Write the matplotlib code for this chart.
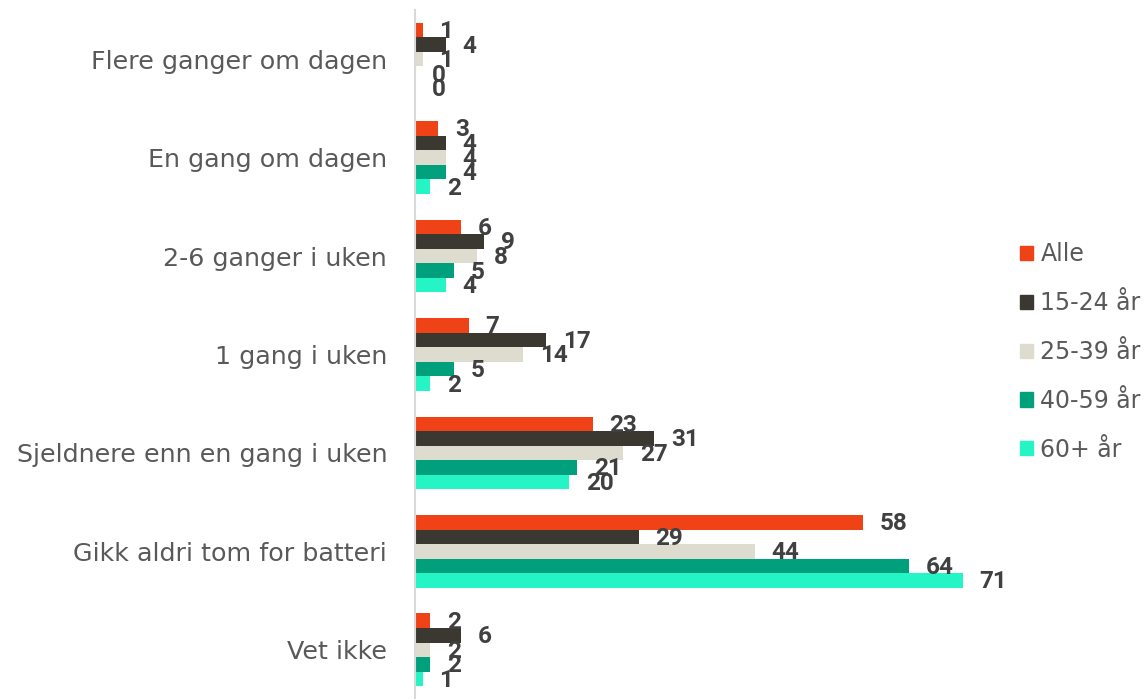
import matplotlib.pyplot as plt
from matplotlib.patches import Patch
import numpy as np

# data
categories = ["Flere ganger om dagen", "En gang om dagen", "2-6 ganger i uken",
              "1 gang i uken", "Sjeldnere enn en gang i uken",
              "Gikk aldri tom for batteri", "Vet ikke"]
series_names = ["Alle", "15-24 år", "25-39 år", "40-59 år", "60+ år"]
alle = [1, 3, 6, 7, 23, 58, 2]
age_15_24 = [4, 4, 9, 17, 31, 29, 6]
age_25_39 = [1, 4, 8, 14, 27, 44, 2]
age_40_59 = [0, 4, 5, 5, 21, 64, 2]
age_60 = [0, 2, 4, 2, 20, 71, 1]
colors = ["#EF4217", "#3B3731", "#DDDCCE", "#00A07C", "#25F4C4"]

all_series = [alle, age_15_24, age_25_39, age_40_59, age_60]

fig = plt.figure(figsize=(11.45, 6.99), dpi=100)
ax = fig.add_axes([415 / 1145, 0.0, (963 - 415) / 1145, 1 - 10 / 699])

y = np.arange(len(categories))
h = 0.148

for i, (vals, c) in enumerate(zip(all_series, colors)):
    pos = y + (i - 2) * h
    ax.barh(pos, vals, height=h, color=c, label=series_names[i])
    for p, v in zip(pos, vals):
        ax.annotate(str(v), (v, p), xytext=(12, -1), textcoords="offset points",
                    ha="left", va="center", fontsize=17.5, fontweight="bold",
                    color="#404040", family=["Roboto", "DejaVu Sans"])

ax.set_xlim(0, 71)
ax.set_ylim(6.5, -0.5)
ax.set_yticks(y)
ax.set_yticklabels(categories, fontsize=18.3, color="#595959")
ax.tick_params(axis="y", length=0, pad=20)
ax.set_xticks([])

for s in ["top", "right", "bottom"]:
    ax.spines[s].set_visible(False)
ax.spines["left"].set_color("#D9D9D9")
ax.spines["left"].set_linewidth(1.5)

handles = [Patch(color=c) for c in colors]
fig.legend(handles, series_names, loc="center left",
           bbox_to_anchor=(999 / 1145, 1 - 352 / 699), frameon=False,
           fontsize=17, labelcolor="#595959", handlelength=0.55, handleheight=0.55,
           handletextpad=0.3, labelspacing=1.05)

plt.savefig("out.png", dpi=100)
